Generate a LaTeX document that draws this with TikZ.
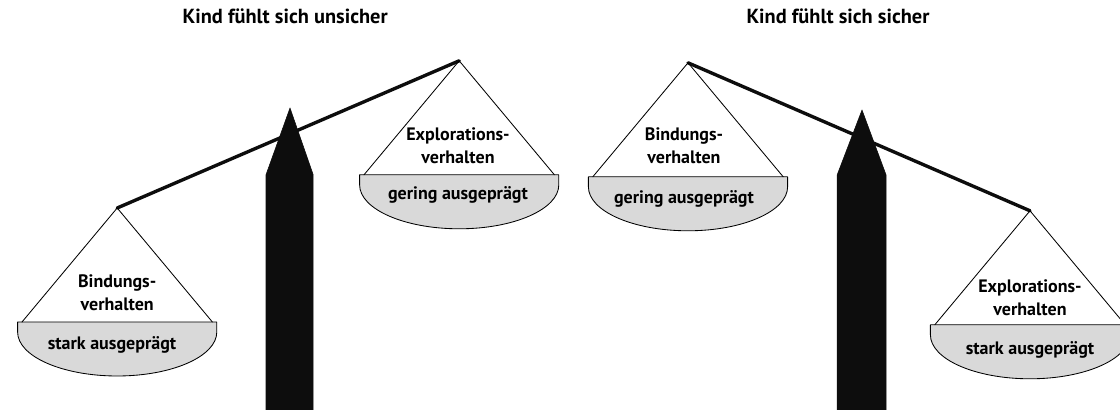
\documentclass[tikz,border=0pt]{standalone}
\usepackage{fontspec}
\setmainfont{PT Sans}
\usepackage{tikz}
\usetikzlibrary{arrows}
\definecolor{dadada}{rgb}{0.85,0.85,0.85}
\definecolor{qqqqqq}{rgb}{0.05,0.05,0.05}
\tikzset{
  beam/.style={line width=2.4pt,color=qqqqqq},
  cord/.style={line width=0.6pt},
  bowl/.style={line width=0.6pt,fill=dadada},
  pillar/.style={fill=qqqqqq,draw=qqqqqq},
  lbl/.style={align=center,font=\bfseries\fontsize{12.8}{16.4}\selectfont},
  ttl/.style={font=\bfseries\fontsize{14.5}{17}\selectfont}
}
\begin{document}
\begin{tikzpicture}[line cap=round,line join=round,x=1.0cm,y=1.0cm]


\clip(0,0) rectangle (28,10.25);
\draw (7.13,9.83) node[ttl] (titleU) {Kind fühlt sich unsicher};
\draw (20.95,9.83) node[ttl] (titleS) {Kind fühlt sich sicher};
% pillars
\draw [pillar] (6.65,-0.5) -- (6.65,5.88) -- (7.25,7.55) -- (7.83,5.88) -- (7.83,-0.5) -- cycle;
\draw [pillar] (20.93,-0.5) -- (20.93,5.88) -- (21.55,7.5) -- (22.15,5.88) -- (22.15,-0.5) -- cycle;
% beams
\draw [beam] (2.93,5.05) -- (11.48,8.73);
\draw [beam] (17.2,8.68) -- (25.75,4.98);
% pans
\draw [shift={(2.93,5.05)},bowl] (-2.49,-2.85) -- (-2.49,-3.1) .. controls (-2.49,-3.71) and (-1.37,-4.2) .. (0,-4.2) .. controls (1.37,-4.2) and (2.49,-3.71) .. (2.49,-3.1) -- (2.49,-2.85) -- cycle;
\draw [shift={(2.93,5.05)},cord] (-2.38,-2.85) -- (0,0) -- (2.38,-2.85);
\draw [shift={(11.48,8.73)},bowl] (-2.49,-2.85) -- (-2.49,-3.1) .. controls (-2.49,-3.71) and (-1.37,-4.2) .. (0,-4.2) .. controls (1.37,-4.2) and (2.49,-3.71) .. (2.49,-3.1) -- (2.49,-2.85) -- cycle;
\draw [shift={(11.48,8.73)},cord] (-2.38,-2.85) -- (0,0) -- (2.38,-2.85);
\draw [shift={(17.2,8.68)},bowl] (-2.49,-2.85) -- (-2.49,-3.1) .. controls (-2.49,-3.71) and (-1.37,-4.2) .. (0,-4.2) .. controls (1.37,-4.2) and (2.49,-3.71) .. (2.49,-3.1) -- (2.49,-2.85) -- cycle;
\draw [shift={(17.2,8.68)},cord] (-2.38,-2.85) -- (0,0) -- (2.38,-2.85);
\draw [shift={(25.75,4.98)},bowl] (-2.49,-2.85) -- (-2.49,-3.1) .. controls (-2.49,-3.71) and (-1.37,-4.2) .. (0,-4.2) .. controls (1.37,-4.2) and (2.49,-3.71) .. (2.49,-3.1) -- (2.49,-2.85) -- cycle;
\draw [shift={(25.75,4.98)},cord] (-2.38,-2.85) -- (0,0) -- (2.38,-2.85);
% labels
\draw (2.93,2.93) node[lbl] (bindU) {Bindungs-\\verhalten};
\draw (2.8,1.63) node[lbl] (starkU) {stark ausgeprägt};
\draw (11.45,6.61) node[lbl] (explU) {Explorations-\\verhalten};
\draw (11.45,5.38) node[lbl] (geringU) {gering ausgeprägt};
\draw (17.1,6.6) node[lbl] (bindS) {Bindungs-\\verhalten};
\draw (17.1,5.28) node[lbl] (geringS) {gering ausgeprägt};
\draw (25.75,2.81) node[lbl] (explS) {Explorations-\\verhalten};
\draw (25.75,1.5) node[lbl] (starkS) {stark ausgeprägt};


\end{tikzpicture}
\end{document}
